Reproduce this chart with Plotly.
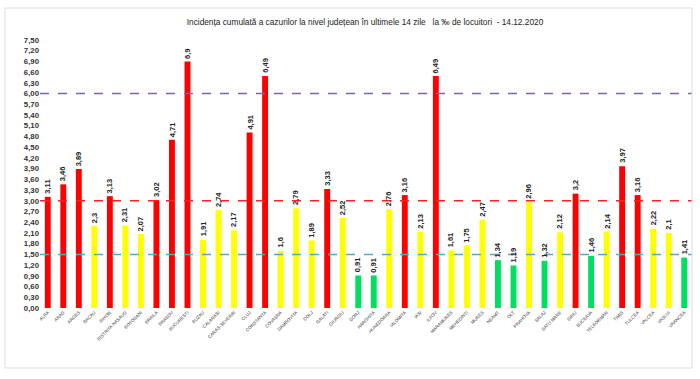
import plotly.graph_objects as go

counties = ["ALBA", "ARAD", "ARGES", "BACAU", "BIHOR", "BISTRITA NASAUD", "BOTOSANI", "BRAILA",
            "BRASOV", "BUCURESTI", "BUZAU", "CALARASI", "CARAS-SEVERIN", "CLUJ", "CONSTANTA",
            "COVASNA", "DAMBOVITA", "DOLJ", "GALATI", "GIURGIU", "GORJ", "HARGHITA", "HUNEDOARA",
            "IALOMITA", "IASI", "ILFOV", "MARAMURES", "MEHEDINTI", "MURES", "NEAMT", "OLT",
            "PRAHOVA", "SALAJ", "SATU MARE", "SIBIU", "SUCEAVA", "TELEORMAN", "TIMIS", "TULCEA",
            "VALCEA", "VASLUI", "VRANCEA"]
values = [3.11, 3.46, 3.89, 2.3, 3.13, 2.31, 2.07, 3.02, 4.71, 6.9, 1.91, 2.74, 2.17, 4.91, 6.49,
          1.6, 2.79, 1.89, 3.33, 2.52, 0.91, 0.91, 2.76, 3.16, 2.13, 6.49, 1.61, 1.75, 2.47, 1.34,
          1.19, 2.96, 1.32, 2.12, 3.2, 1.46, 2.14, 3.97, 3.16, 2.22, 2.1, 1.41]
thresholds = [6.0, 3.0, 1.5]
threshold_colors = ["#8064A2", "#FF2020", "#4BACC6"]
y_ticks = [round(i * 0.3, 2) for i in range(26)]
title = "Incidența cumulată a cazurilor la nivel județean în ultimele 14 zile   la ‰ de locuitori  - 14.12.2020"


def bar_color(v):
    if v >= 3.0:
        return "#FF0000"
    if v >= 1.5:
        return "#FFFF00"
    return "#00E060"


def label(v):
    s = ("%.2f" % v).rstrip("0").rstrip(".")
    return s.replace(".", ",")


fig = go.Figure()
fig.add_trace(go.Bar(
    x=counties, y=values,
    marker=dict(color=[bar_color(v) for v in values], line=dict(width=0)),
    width=0.38, hoverinfo="x+y",
))

for c, v in zip(counties, values):
    fig.add_annotation(x=c, y=v, xref="x", yref="y", text=label(v), showarrow=False,
                       textangle=-90, xanchor="center", yanchor="bottom", yshift=1,
                       font=dict(family="Liberation Sans", size=7.5, color="#222222",
                                 weight="bold"))

for t, c in zip(thresholds, threshold_colors):
    fig.add_shape(type="line", xref="paper", x0=0.0, x1=1.0, yref="y", y0=t, y1=t,
                  line=dict(color=c, width=1.5, dash="dash"), layer="above")

# outer frame (pixels: x 5..692, y 8..368)
fig.add_shape(type="rect", xref="paper", yref="paper",
              x0=(5 - 40) / 652, x1=(692 - 40) / 652,
              y0=(308 - 368) / 268, y1=(308 - 8) / 268,
              line=dict(color="#DDDDDD", width=1), fillcolor="rgba(0,0,0,0)", layer="above")

fig.update_layout(
    template="none",
    width=700, height=379,
    margin=dict(l=40, r=8, t=40, b=71),
    paper_bgcolor="white", plot_bgcolor="white",
    separators=",.",
    showlegend=False,
    title=dict(text=title, x=365 / 700, xanchor="center", xref="container",
               y=1 - 22.5 / 379, yanchor="middle", yref="container",
               font=dict(family="Liberation Sans", size=8.3, color="#222222")),
    xaxis=dict(range=[-0.5, 41.5], tickangle=-45, showgrid=False, showline=False, ticks="",
               automargin=False, zeroline=False,
               tickfont=dict(family="Liberation Sans", size=4.5, color="#333333")),
    yaxis=dict(range=[0, 7.5], tickvals=y_ticks, tickformat=".2f", showgrid=False,
               zeroline=False, showline=False, ticks="", automargin=False,
               tickfont=dict(family="Liberation Sans", size=7.8, color="#333333", weight="bold")),
    bargap=0.6,
)

fig.write_html("out.html", config={"displayModeBar": False},
               post_script="document.body.style.margin='0';document.body.style.overflow='hidden';")
